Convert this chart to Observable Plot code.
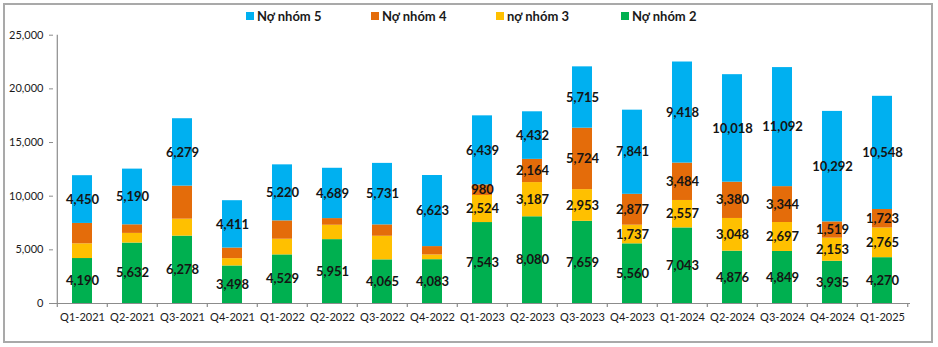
<!DOCTYPE html>
<html>
<head>
<meta charset="utf-8">
<script src="https://cdn.jsdelivr.net/npm/d3@7"></script>
<script src="https://cdn.jsdelivr.net/npm/@observablehq/plot@0.6"></script>
<style>
  html, body { margin: 0; padding: 0; background: #fff; }
  body { width: 938px; height: 347px; position: relative; overflow: hidden; font-family: Lato, "Open Sans", sans-serif; }
  #frame { position: absolute; left: 3px; top: 3px; width: 930px; height: 340px; box-sizing: border-box; border: 2px solid #a9a9a9; pointer-events: none; }
  #legend { position: absolute; top: 7px; left: 246px; display: flex; height: 18px; align-items: center; }
  .item { width: 125px; display: flex; align-items: center; font-weight: bold; font-size: 13px; color: #1a1a1a; }
  .sw { width: 8px; height: 8px; margin-right: 3px; }
  #chart { position: absolute; top: 28px; left: 0; }
</style>
</head>
<body>
<div id="legend"></div>
<div id="chart"></div>
<div id="frame"></div>
<script>
const quarters = ["Q1-2021","Q2-2021","Q3-2021","Q4-2021","Q1-2022","Q2-2022","Q3-2022","Q4-2022","Q1-2023","Q2-2023","Q3-2023","Q4-2023","Q1-2024","Q2-2024","Q3-2024","Q4-2024","Q1-2025"];
const nhom2 = [4190,5632,6278,3498,4529,5951,4065,4083,7543,8080,7659,5560,7043,4876,4849,3935,4270];
const nhom3 = [1370,900,1580,680,1460,1340,2200,440,2524,3187,2953,1737,2557,3048,2697,2153,2765];
const nhom4 = [1900,800,3080,990,1710,620,1060,780,980,2164,5724,2877,3484,3380,3344,1519,1723];
const nhom5 = [4450,5190,6279,4411,5220,4689,5731,6623,6439,4432,5715,7841,9418,10018,11092,10292,10548];
// segments of nhóm 3 and nhóm 4 carry a label only from this quarter on
const firstLabelledMid = "Q1-2023";
const yTicks = [0,5000,10000,15000,20000,25000];

const seriesNames = ["Nợ nhóm 2","nợ nhóm 3","Nợ nhóm 4","Nợ nhóm 5"];
const seriesValues = [nhom2, nhom3, nhom4, nhom5];
const colors = ["#00b050","#ffc000","#e46c0a","#00b0f0"];
const legendOrder = [3,2,1,0];

const startIdx = quarters.indexOf(firstLabelledMid);
const data = [];
quarters.forEach((q, i) => {
  seriesValues.forEach((vals, s) => {
    const show = (s === 0 || s === 3) || i >= startIdx;
    data.push({q, series: seriesNames[s], value: vals[i], show});
  });
});

const fmt = d3.format(",");
const W = 938, H = 319, ML = 53, MR = 28, MT = 6.7, MB = 44;
const step = (W - ML - MR) / quarters.length;
const axisColor = "#8c8c8c";

const chart = Plot.plot({
  width: W, height: H,
  marginLeft: ML, marginRight: MR, marginTop: MT, marginBottom: MB,
  style: {fontFamily: "Lato, 'Open Sans', sans-serif", color: "#1a1a1a", background: "#fff"},
  x: {domain: quarters, paddingInner: 0.6, paddingOuter: 0.3, label: null},
  y: {domain: [0, 25000], label: null},
  color: {domain: seriesNames, range: colors},
  marks: [
    Plot.barY(data, {x: "q", y: "value", z: "series", fill: "series"}),
    Plot.text(data, Plot.stackY({
      x: "q", y: "value", z: "series",
      text: d => d.show ? fmt(d.value) : null,
      fontWeight: "bold", fontSize: 13, fill: "#141414"
    })),
    Plot.ruleY([0], {stroke: axisColor, strokeWidth: 1.2}),
    Plot.ruleX([quarters[0]], {x: d => d, dx: -step / 2, y1: 0, y2: 25000, stroke: axisColor, strokeWidth: 1.2}),
    Plot.ruleX(quarters, {x: d => d, dx: -step / 2, y1: 0, y2: -380, stroke: axisColor, strokeWidth: 1.2}),
    Plot.ruleX([quarters[quarters.length - 1]], {x: d => d, dx: step / 2, y1: 0, y2: -380, stroke: axisColor, strokeWidth: 1.2}),
    Plot.axisY({ticks: yTicks, tickFormat: fmt, tickSize: 4, tickPadding: 6, fontSize: 11, stroke: axisColor, label: null}),
    Plot.axisX({tickSize: 0, tickPadding: 10, fontSize: 11, label: null})
  ]
});
document.getElementById("chart").appendChild(chart);

const legend = document.getElementById("legend");
legendOrder.forEach(s => {
  const item = document.createElement("div");
  item.className = "item";
  const sw = document.createElement("span");
  sw.className = "sw";
  sw.style.background = colors[s];
  const t = document.createElement("span");
  t.textContent = seriesNames[s];
  item.appendChild(sw); item.appendChild(t);
  legend.appendChild(item);
});
</script>
</body>
</html>
